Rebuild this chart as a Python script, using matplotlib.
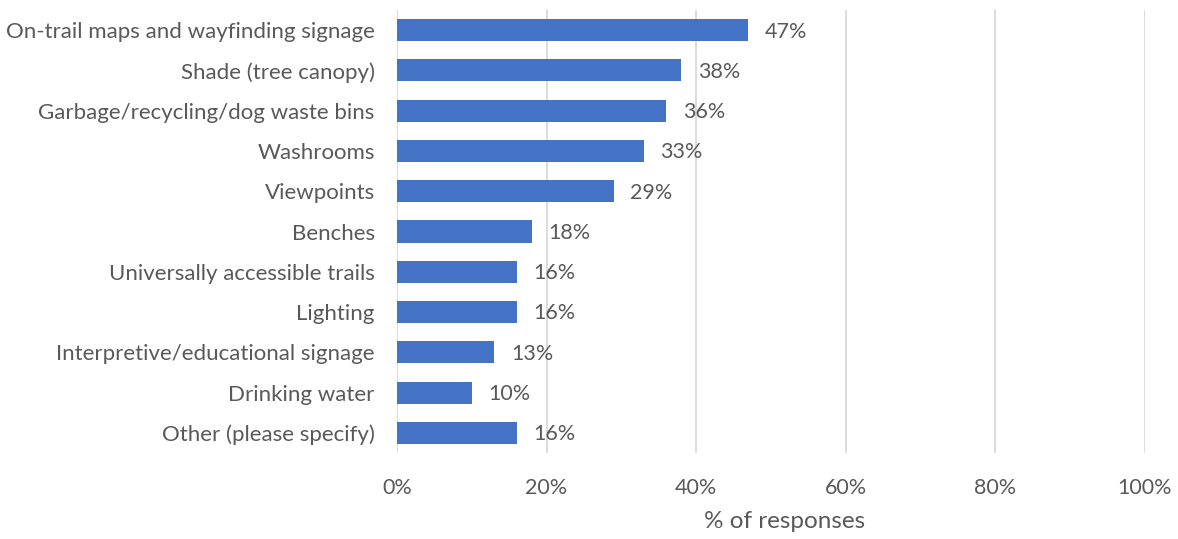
import matplotlib
matplotlib.use("Agg")
import matplotlib.pyplot as plt
from matplotlib.ticker import FuncFormatter

categories = [
    "On-trail maps and wayfinding signage",
    "Shade (tree canopy)",
    "Garbage/recycling/dog waste bins",
    "Washrooms",
    "Viewpoints",
    "Benches",
    "Universally accessible trails",
    "Lighting",
    "Interpretive/educational signage",
    "Drinking water",
    "Other (please specify)",
]
values = [47, 38, 36, 33, 29, 18, 16, 16, 13, 10, 16]
x_ticks = [0, 20, 40, 60, 80, 100]
x_label = "% of responses"

BAR_COLOR = "#4472C4"
TEXT_COLOR = "#595959"
GRID_COLOR = "#D9D9D9"

plt.rcParams["font.family"] = ["Lato", "DejaVu Sans"]

W, H = 1178, 539
fig = plt.figure(figsize=(W / 100, H / 100), dpi=100)
ax = fig.add_axes([397 / W, (H - 453) / H, (1144.5 - 397) / W, (453 - 10) / H])

y = list(range(len(categories)))
ax.barh(y, values, height=0.55, color=BAR_COLOR, zorder=3)
ax.set_ylim(len(categories) - 0.5, -0.5)
ax.set_xlim(0, 100)

for yi, v in zip(y, values):
    ax.annotate(f"{v}%", xy=(v, yi), xytext=(12, -1), textcoords="offset points",
                va="center", ha="left", fontsize=15.5, color=TEXT_COLOR)

ax.set_yticks(y)
ax.set_yticklabels(categories, fontsize=16, color=TEXT_COLOR)
ax.set_xticks(x_ticks)
ax.xaxis.set_major_formatter(FuncFormatter(lambda v, p: f"{v:.0f}%"))
ax.tick_params(axis="x", labelsize=15.5, labelcolor=TEXT_COLOR, length=0, pad=18)
ax.tick_params(axis="y", length=0, pad=16)

ax.grid(axis="x", color=GRID_COLOR, linewidth=1.3, zorder=0)
for s in ax.spines.values():
    s.set_visible(False)

fig.text(785 / W, 1 - 522 / H, x_label, ha="center", va="center",
         fontsize=17.5, color=TEXT_COLOR)

fig.savefig("out.png", dpi=100, facecolor="white")
